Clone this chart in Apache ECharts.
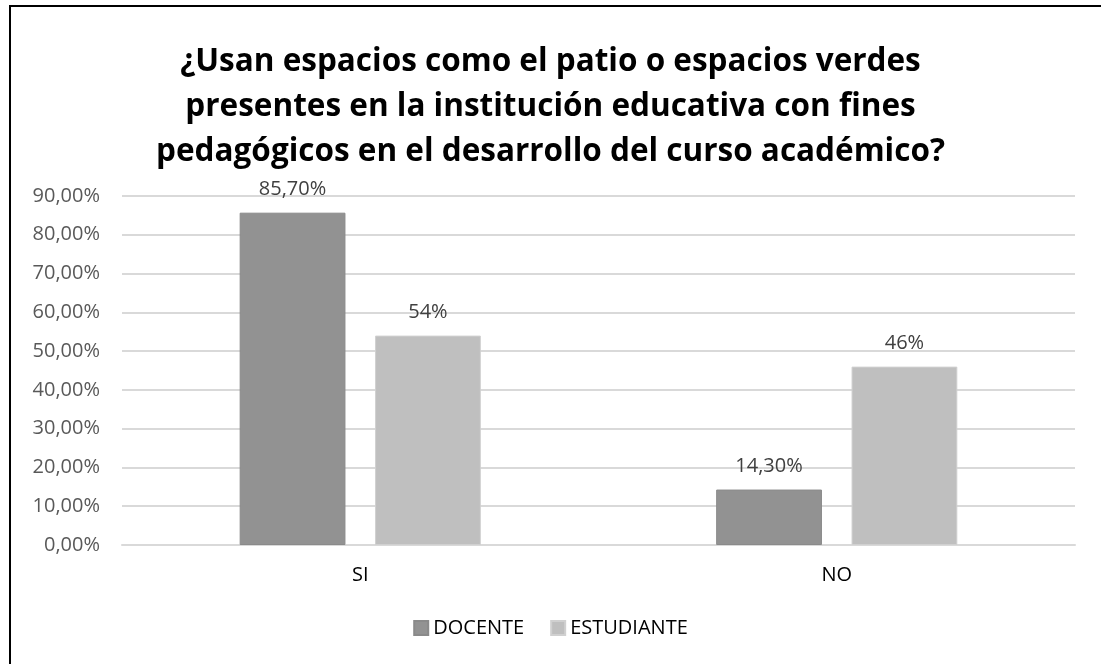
<!DOCTYPE html>
<html>
<head>
<meta charset="utf-8">
<script src="https://cdn.jsdelivr.net/npm/echarts@6/dist/echarts.min.js"></script>
<style>
  html, body { margin: 0; padding: 0; background: #fff; }
  #chart { width: 1101px; height: 664px; }
</style>
</head>
<body>
<div id="chart"></div>
<script>
// datos
var categories = ['SI', 'NO']
var docente = [85.7, 14.3]
var estudiante = [54, 46]
var docenteLabels = ['85,70%', '14,30%']
var estudianteLabels = ['54%', '46%']

var chart = echarts.init(document.getElementById('chart'))
var font = '"Open Sans", "Noto Sans", sans-serif'

var option = {
  animation: false,
  backgroundColor: '#fff',
  textStyle: { fontFamily: font },
  title: {
    text: '¿Usan espacios como el patio o espacios verdes\npresentes en la institución educativa con fines\npedagógicos en el desarrollo del curso académico?',
    left: 'center',
    top: 35,
    textStyle: {
      fontFamily: font,
      fontWeight: 'bold',
      fontSize: 31.5,
      lineHeight: 45,
      color: '#000'
    }
  },
  legend: {
    bottom: 21,
    left: 'center',
    itemWidth: 14,
    itemHeight: 14,
    itemGap: 26,
    icon: 'rect',
    textStyle: { fontSize: 20, color: '#000', fontFamily: font },
    data: ['DOCENTE', 'ESTUDIANTE']
  },
  grid: {
    left: 122,
    right: 26,
    top: 196,
    bottom: 119,
    containLabel: false
  },
  xAxis: {
    type: 'category',
    data: categories,
    axisTick: { show: false },
    axisLine: { lineStyle: { color: '#d9d9d9', width: 2 } },
    axisLabel: { color: '#000', fontSize: 20, margin: 20, fontFamily: font }
  },
  yAxis: {
    type: 'value',
    min: 0,
    max: 90,
    interval: 10,
    axisLine: { show: false },
    axisTick: { show: false },
    splitLine: { lineStyle: { color: '#d9d9d9', width: 2 } },
    axisLabel: {
      color: '#595959',
      fontSize: 20,
      margin: 22,
      fontFamily: font,
      formatter: function (v) { return v.toFixed(2).replace('.', ',') + '%' }
    }
  },
  series: [{
    name: 'DOCENTE',
    type: 'bar',
    data: docente,
    barWidth: '22.2%',
    barGap: '28%',
    itemStyle: { color: '#929292', borderColor: '#8a8a8a', borderWidth: 1 },
    label: {
      show: true,
      position: 'top',
      distance: 13,
      color: '#404040',
      fontSize: 20,
      fontFamily: font,
      formatter: function (p) { return docenteLabels[p.dataIndex] }
    }
  }, {
    name: 'ESTUDIANTE',
    type: 'bar',
    data: estudiante,
    barWidth: '22.2%',
    itemStyle: { color: '#bfbfbf', borderColor: '#d0d0d0', borderWidth: 1 },
    label: {
      show: true,
      position: 'top',
      distance: 13,
      color: '#404040',
      fontSize: 20,
      fontFamily: font,
      formatter: function (p) { return estudianteLabels[p.dataIndex] }
    }
  }],
  graphic: [{
    type: 'polyline',
    shape: { points: [[10, 664], [10, 6], [1101, 6]] },
    style: { stroke: '#000', lineWidth: 2, fill: null }
  }]
}

chart.setOption(option)
</script>
</body>
</html>
